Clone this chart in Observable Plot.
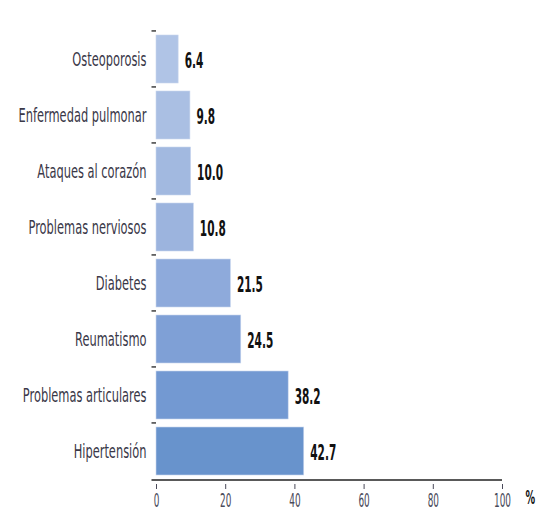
<!DOCTYPE html>
<html><head><meta charset="utf-8">
<script src="https://cdn.jsdelivr.net/npm/d3@7"></script>
<script src="https://cdn.jsdelivr.net/npm/@observablehq/plot@0.6"></script>
<style>
body{margin:0;background:#fff;}
svg text{font-stretch:condensed;}
</style></head><body>
<div id="chart"></div>
<script>
const categories = ["Osteoporosis","Enfermedad pulmonar","Ataques al corazón","Problemas nerviosos","Diabetes","Reumatismo","Problemas articulares","Hipertensión"];
const values = [6.4, 9.8, 10.0, 10.8, 21.5, 24.5, 38.2, 42.7];
const labels = ["6.4","9.8","10.0","10.8","21.5","24.5","38.2","42.7"];
const colors = ["#b0c4e6","#aabfe3","#a2b9e0","#9cb4de","#8eaadb","#7fa0d6","#7399d2","#6893cc"];
const xTicks = [0,20,40,60,80,100];

const data = categories.map((c,i)=>({cat:c, v:values[i], label:labels[i], color:colors[i]}));
const step = (484-27)/categories.length;

const chart = Plot.plot({
  width:538, height:512,
  marginLeft:156, marginRight:36, marginTop:27, marginBottom:28,
  style:{fontFamily:'"DejaVu Sans", sans-serif', background:"transparent"},
  x:{domain:[0,100], axis:null},
  y:{domain:categories, padding:0.14, axis:null},
  marks:[
    Plot.barX(data,{y:"cat", x:"v", fill:"color", stroke:"#c9d6ee", strokeWidth:0.6}),
    Plot.text(data,{y:"cat", x:"v", text:"label", dx:6, dy:1, textAnchor:"start", fontSize:22, fontWeight:"bold", fill:"#111"}),
    Plot.axisY({tickSize:0, tickPadding:10, fontSize:20, color:"#3a3848", label:null}),
    Plot.ruleX([0],{stroke:"#222", strokeWidth:1.5, y1:categories[0], y2:categories[categories.length-1], insetTop:-step/2, insetBottom:-step/2}),
    Plot.ruleY(categories,{y:d=>d, x1:-1.3, x2:0, stroke:"#222", strokeWidth:1.3, dy:-step/2}),
    Plot.ruleY([categories[categories.length-1]],{y:d=>d, x1:-1.3, x2:100, stroke:"#222", strokeWidth:1.5, dy:step/2}),
    Plot.axisX({ticks:xTicks, tickSize:5, tickPadding:4, fontSize:19, color:"#4a4a5a", label:null, tickFormat:d=>d, anchor:"bottom"}),
    Plot.text(["%"],{frameAnchor:"bottom-right", text:d=>d, textAnchor:"start", dx:23, dy:19, fontSize:20, fontWeight:"bold", fill:"#111"})
  ]
});
document.getElementById("chart").appendChild(chart);

function squeeze(nodes, factor){
  nodes.forEach(t=>{
    const w = t.getComputedTextLength();
    t.setAttribute("textLength", (w*factor).toFixed(2));
    t.setAttribute("lengthAdjust","spacingAndGlyphs");
  });
}
const yl = [...chart.querySelectorAll('g[aria-label="y-axis tick label"] text')];
const ref = yl.find(t=>t.textContent==="Enfermedad pulmonar");
if (ref) squeeze(yl, 128/ref.getComputedTextLength());
const xl = [...chart.querySelectorAll('g[aria-label="x-axis tick label"] text')];
const r100 = xl.find(t=>t.textContent==="100");
if (r100) squeeze(xl, 17/r100.getComputedTextLength());
const tl = [...chart.querySelectorAll('g[aria-label="text"] text')];
const r42 = tl.find(t=>t.textContent==="42.7");
if (r42) squeeze(tl, 26/r42.getComputedTextLength());
</script></body></html>
